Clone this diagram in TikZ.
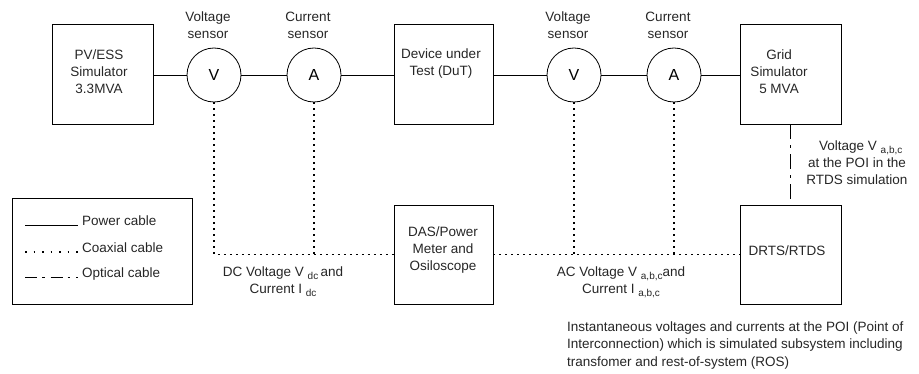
\documentclass[tikz,border=0pt]{standalone}
\usepackage{fontspec}
\setmainfont{Liberation Sans}
\newcommand{\lowsub}[1]{\raisebox{-0.45ex}{\fontsize{10}{10}\selectfont #1}}
\begin{document}
\begin{tikzpicture}[x=1pt,y=-1pt,
  box/.style={draw, line width=0.8pt, minimum width=101pt, minimum height=100pt, inner sep=0pt},
  sensor/.style={draw, circle, line width=0.8pt, minimum size=54pt, inner sep=0pt, font=\fontsize{16}{18}\selectfont},
  txt/.style={align=center, font=\fontsize{13.5}{17}\selectfont, inner sep=0pt, text=black!85},
  ltxt/.style={align=left, font=\fontsize{13.5}{17.5}\selectfont, inner sep=0pt, text=black!85},
  power/.style={line width=0.8pt},
  coax/.style={line width=1.1pt, dash pattern=on 2pt off 4pt},
  optical/.style={line width=1pt, dash pattern=on 15pt off 6pt on 3pt off 6pt}]
\useasboundingbox (0,0) rectangle (919,374);

% main row
\node[box] (pv) at (102.5,74) {};
\node[sensor] (v1) at (214,75) {V};
\node[sensor] (a1) at (314,75) {A};
\node[box, minimum width=99pt] (dut) at (443.5,74) {};
\node[sensor] (v2) at (574,75) {V};
\node[sensor] (a2) at (674,75) {A};
\node[box] (grid) at (790.5,74) {};

% lower row
\node[box, minimum width=99pt, minimum height=99pt] (das) at (443.5,254.5) {};
\node[box, minimum height=99pt] (drts) at (790.5,254.5) {};

% box texts
\node[txt] (pvt) at (99,72) {PV/ESS\\Simulator\\3.3MVA};
\node[txt] (dutt) at (441,63.5) {Device under\\Test (DuT)};
\node[txt] (gridt) at (779,72) {Grid\\Simulator\\5 MVA};
\node[txt] (dast) at (443,250) {DAS/Power\\Meter and\\Osiloscope};
\node[txt] (drtst) at (787,251) {DRTS/RTDS};

% sensor labels
\node[txt] (v1l) at (208,25) {Voltage\\sensor};
\node[txt] (a1l) at (308,25) {Current\\sensor};
\node[txt] (v2l) at (568,25) {Voltage\\sensor};
\node[txt] (a2l) at (668,25) {Current\\sensor};

% power cables
\draw[power] (pv.east |- v1.west) -- (v1.west);
\draw[power] (v1.east) -- (a1.west);
\draw[power] (a1.east) -- (a1.east -| dut.west);
\draw[power] (dut.east |- v2.west) -- (v2.west);
\draw[power] (v2.east) -- (a2.west);
\draw[power] (a2.east) -- (a2.east -| grid.west);

% coaxial cables
\draw[coax] (v1.south) |- (das.west);
\draw[coax] (a1.south) -- (a1.south |- das.west);
\draw[coax] (das.east) -- (drts.west);
\draw[coax] (v2.south) -- (v2.south |- das.east);
\draw[coax] (a2.south) -- (a2.south |- das.east);

% optical cable
\draw[optical] (grid.south) -- (drts.north);

% labels
\node[txt] (dcl) at (283,282) {DC Voltage V \lowsub{dc}\,and\\Current I \lowsub{dc}};
\node[txt] (acl) at (621,282) {AC Voltage V \lowsub{a,b,c}and\\Current I \lowsub{a,b,c}};
\node[txt] (poil) at (857,162.5) {\ \ Voltage V \lowsub{a,b,c}\\at the POI in the\\RTDS simulation};
\node[ltxt, anchor=west] (instl) at (567,345.5) {Instantaneous voltages and currents at the POI (Point of\\Interconnection) which is simulated subsystem including\\transfomer and rest-of-system (ROS)};

% legend
\node[draw, line width=0.8pt, minimum width=180pt, minimum height=106pt, inner sep=0pt] (legend) at (102,251) {};
\coordinate (p1) at (25,225); \coordinate (p2) at (78,225);
\coordinate (c1) at (25,252); \coordinate (c2) at (78,252);
\coordinate (o1) at (25,278); \coordinate (o2) at (78,278);
\draw[power] (p1) -- (p2);
\draw[line width=1.1pt, dash pattern=on 1.5pt off 7pt] (c1) -- (c2);
\draw[line width=1pt, dash pattern=on 12pt off 5pt on 2.5pt off 6pt] (o1) -- (o2);
\node[ltxt, anchor=west] (pl) at (82,221) {Power cable};
\node[ltxt, anchor=west] (cl) at (82,248) {Coaxial cable};
\node[ltxt, anchor=west] (ol) at (82,274) {Optical cable};
\end{tikzpicture}
\end{document}
